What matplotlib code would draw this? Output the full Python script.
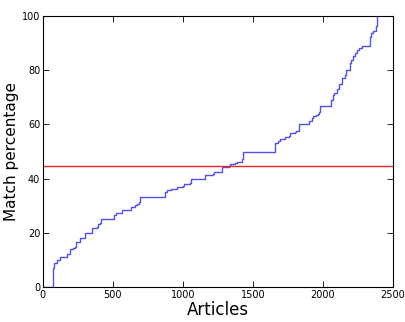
import numpy as np
import matplotlib
matplotlib.use("Agg")
import matplotlib.pyplot as plt

# step breakpoints (article index, match %)
articles = [0, 69, 80, 98, 121, 169, 193, 212, 231, 236, 260, 264, 298, 350, 383, 393,
            407, 417, 507, 521, 562, 626, 657, 669, 683, 693, 869, 883, 912, 955, 998,
            1007, 1050, 1060, 1160, 1212, 1221, 1279, 1326, 1336, 1369, 1383, 1421, 1431,
            1655, 1679, 1693, 1721, 1731, 1760, 1764, 1798, 1807, 1826, 1831, 1898, 1921,
            1931, 1950, 1964, 1974, 1983, 2055, 2069, 2083, 2102, 2117, 2136, 2140, 2155,
            2164, 2193, 2202, 2217, 2231, 2245, 2260, 2279, 2336, 2345, 2360, 2379, 2383,
            2388]
match = [0, 7, 9, 10, 11, 12.2, 13.9, 14.3, 14.9, 16.4, 16.7, 18.0, 19.8, 21.6, 22.3, 23.2,
         23.5, 25.0, 26.6, 27.2, 28.4, 29.6, 30.1, 30.6, 31.5, 33.3, 35.2, 35.8, 36.0, 37.0,
         37.3, 38.0, 38.3, 40.0, 41.3, 41.7, 42.6, 44.2, 44.6, 45.4, 45.6, 46.2, 47.1, 50.0,
         53.0, 53.7, 54.5, 54.7, 55.5, 55.7, 56.7, 57.2, 57.7, 57.9, 60.0, 61.4, 62.2,
         63.1, 63.5, 63.8, 64.7, 66.7, 69.2, 70.8, 71.5, 72.9, 75.0, 75.4, 77.0, 78.2,
         80.0, 82.5, 83.8, 85.2, 86.5, 87.5, 88.3, 88.9, 92.4, 93.6, 94.6, 94.8, 96.3,
         100.0]
threshold = 44.7

fig = plt.figure(figsize=(4.05, 3.22), dpi=100)
ax = fig.add_axes([0.106, 0.109, 0.864, 0.841])

ax.plot(articles, match, drawstyle='steps-post', color='#3333ee', lw=1.0, alpha=0.85)
ax.axhline(threshold, color='#ee2222', lw=1.0)

ax.set_xlim(0, 2500)
ax.set_ylim(0, 100)
ax.set_xticks(np.arange(0, 2501, 500))
ax.set_yticks(np.arange(0, 101, 20))
ax.tick_params(direction='in', top=True, right=True, labelsize=7, length=4, width=0.6, pad=2)
for s in ax.spines.values():
    s.set_linewidth(0.8)

ax.set_xlabel("Articles", fontsize=12, labelpad=1)
ax.set_ylabel("Match percentage", fontsize=11, labelpad=2)

fig.savefig("out.png", dpi=100)
